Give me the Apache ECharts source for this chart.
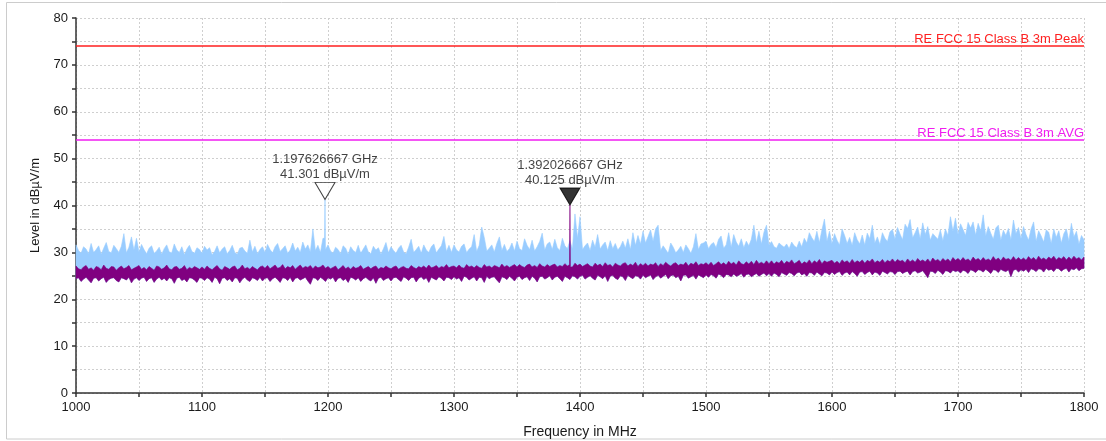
<!DOCTYPE html>
<html>
<head>
<meta charset="utf-8">
<script src="https://cdn.jsdelivr.net/npm/echarts@6/dist/echarts.min.js"></script>
<style>
  html, body { margin: 0; padding: 0; background: #fff; }
  #chart { width: 1106px; height: 441px; }
</style>
</head>
<body>
<div id="chart"></div>
<script>
// Frequency grid of the traces: one reading every 2 MHz from 1000 MHz to 1800 MHz
const FREQ_START = 1000;
const FREQ_STEP = 2;

// Peak detector trace, upper envelope per 2 MHz step (dBµV/m)
const peakHigh = [
  31.6, 30.4, 29.8, 31.2, 30.7, 29.7, 31.9, 30.0, 30.6, 31.4, 29.6, 30.9, 32.1, 30.2, 29.9, 31.5, 30.8, 30.0, 31.3, 34.0, 29.9, 31.1, 33.3, 30.5, 33.0,
  30.1, 31.7, 30.6, 29.7, 30.9, 31.4, 29.8, 30.3, 31.1, 29.6, 30.8, 31.6, 30.1, 29.9, 31.8, 30.5, 30.0, 31.2, 29.5, 30.7, 31.5, 30.2, 29.8, 31.0, 30.6,
  29.8, 31.3, 30.5, 31.0, 29.5, 30.2, 31.4, 29.9, 30.7, 31.2, 29.7, 30.4, 31.5, 30.0, 29.6, 30.9, 31.1, 30.3, 29.8, 32.6, 30.1, 31.3, 29.7, 30.6, 31.2,
  30.0, 31.7, 30.6, 29.9, 31.2, 31.9, 30.2, 30.8, 31.4, 29.8, 30.5, 32.0, 30.3, 31.1, 30.0, 32.2, 30.7, 31.6, 30.1, 35.0, 30.4, 31.5, 30.0, 33.0, 30.6,
  31.6, 30.3, 29.8, 31.1, 30.6, 29.7, 31.4, 30.9, 29.6, 31.2, 30.4, 30.0, 31.5, 29.8, 30.7, 31.6, 30.1, 29.7, 31.3, 30.5, 31.0, 29.6, 30.8, 32.1, 29.9,
  31.2, 30.4, 29.8, 30.9, 31.5, 30.1, 29.7, 31.1, 32.8, 30.0, 30.6, 31.3, 29.8, 31.6, 30.5, 30.0, 31.2, 31.8, 29.9, 30.7, 31.4, 33.4, 30.2, 31.5, 30.0,
  31.6, 30.5, 30.1, 31.3, 31.8, 30.0, 30.7, 31.2, 33.8, 30.2, 31.5, 35.4, 33.2, 30.3, 30.9, 31.6, 30.1, 31.9, 33.3, 30.4, 31.7, 30.2, 30.8, 32.0, 30.3,
  32.4, 30.8, 30.4, 32.9, 31.5, 30.6, 32.6, 30.3, 31.2, 32.3, 34.1, 30.5, 31.8, 32.2, 30.6, 32.8, 31.0, 30.4, 33.0, 31.4, 30.8, 32.5, 30.7, 38.2, 33.0,
  37.6, 30.6, 31.4, 32.0, 30.4, 32.6, 31.1, 33.8, 30.7, 31.6, 32.2, 30.4, 32.5, 30.8, 31.9, 30.5, 31.2, 32.4, 30.9, 32.9, 30.6, 34.2, 31.5, 33.6, 31.8,
  34.5, 32.0, 33.4, 34.8, 32.4, 35.0, 35.8, 30.4, 31.4, 30.6, 29.8, 32.0, 31.1, 29.9, 30.5, 31.3, 30.0, 31.6, 30.8, 29.8, 31.2, 34.0, 30.6, 31.8, 32.0,
  32.4, 30.8, 31.7, 32.1, 31.0, 32.8, 33.5, 30.9, 31.6, 34.2, 31.1, 33.8, 32.2, 31.3, 32.9, 31.0, 32.4, 31.4, 32.8, 35.8, 32.0, 34.5, 31.8, 34.3, 35.8,
  31.6, 32.3, 31.2, 30.9, 32.0, 31.5, 31.1, 31.8, 30.8, 32.2, 31.4, 31.0, 32.4, 31.2, 33.0, 32.0, 34.2, 33.1, 32.3, 34.5, 32.1, 34.8, 37.1, 32.4, 34.5,
  31.8, 34.0, 32.6, 31.6, 35.0, 33.6, 31.9, 33.2, 31.5, 34.2, 32.7, 31.8, 33.7, 31.6, 34.1, 32.9, 35.8, 32.0, 33.3, 31.7, 34.2, 33.0, 32.3, 34.4, 34.9,
  32.8, 35.3, 33.9, 32.7, 36.0, 35.1, 37.0, 33.1, 34.2, 35.4, 32.9, 36.3, 33.8, 35.5, 32.6, 34.0, 33.4, 32.8, 34.8, 32.5, 35.0, 33.6, 37.6, 34.5, 37.3,
  33.8, 36.1, 34.9, 33.6, 36.4, 35.2, 36.5, 33.7, 36.2, 34.6, 38.0, 33.5, 35.5, 34.1, 32.8, 35.2, 35.8, 32.6, 34.7, 33.6, 35.1, 32.7, 36.9, 34.0, 35.3,
  32.9, 35.5, 33.8, 32.6, 35.0, 36.5, 32.4, 34.6, 33.5, 32.2, 34.8, 34.3, 31.9, 35.0, 33.2, 34.6, 32.0, 34.0, 35.0, 32.4, 36.2, 33.3, 34.5, 31.8, 33.6,
  32.7
];

// Average detector trace, upper envelope per 2 MHz step (dBµV/m)
const avgHigh = [
  27.1, 26.5, 26.3, 26.9, 27.2, 26.4, 26.7, 26.2, 27.0, 26.8, 26.3, 27.3, 26.6, 26.4, 27.0, 26.9, 26.2, 26.7, 27.1, 26.5, 26.8, 27.2, 26.3, 26.6, 26.9,
  27.2, 26.4, 26.8, 26.3, 27.0, 26.6, 26.2, 27.1, 26.9, 26.4, 26.7, 27.3, 26.5, 26.3, 26.9, 27.0, 26.4, 26.6, 27.2, 26.3, 26.8, 26.5, 27.0, 26.7, 26.4,
  26.9, 26.4, 27.1, 26.6, 26.3, 26.8, 27.2, 26.5, 26.2, 27.0, 26.7, 26.4, 26.9, 27.1, 26.3, 26.6, 27.3, 26.5, 26.8, 26.4, 27.0, 26.6, 26.3, 26.9, 27.1,
  26.6, 27.2, 26.5, 26.9, 27.3, 26.6, 26.8, 27.4, 26.5, 27.0, 26.7, 27.2, 26.4, 26.9, 27.3, 26.6, 27.0, 26.8, 27.2, 26.5, 27.1, 26.7, 26.9, 27.3, 26.6,
  27.0, 26.5, 26.8, 27.1, 26.3, 26.7, 27.2, 26.5, 26.9, 26.4, 27.0, 26.6, 26.8, 27.2, 26.4, 26.7, 27.0, 26.5, 26.9, 27.1, 26.4, 26.8, 26.6, 27.1, 26.7,
  26.5, 26.9, 27.1, 26.4, 26.8, 27.0, 26.6, 26.5, 27.2, 26.8, 26.5, 27.0, 26.7, 27.1, 26.6, 27.3, 26.7, 26.9, 27.2, 26.6, 27.0, 26.8, 27.4, 26.7, 27.0,
  27.1, 26.7, 27.3, 26.8, 26.6, 27.4, 26.9, 27.1, 26.7, 27.2, 26.8, 26.6, 27.4, 26.9, 27.1, 26.7, 27.2, 27.0, 26.7, 27.5, 26.9, 27.2, 26.8, 27.1, 27.4,
  26.9, 27.4, 27.0, 26.8, 27.3, 27.5, 26.9, 27.2, 26.8, 27.6, 27.1, 26.9, 27.4, 27.0, 27.3, 27.5, 26.9, 27.2, 27.0, 27.6, 27.1, 27.4, 26.9, 27.7, 27.2,
  27.5, 27.0, 27.3, 27.6, 27.1, 26.9, 27.7, 27.2, 27.5, 27.0, 27.8, 27.2, 27.4, 26.9, 27.7, 27.3, 27.1, 27.6, 27.8, 27.1, 27.5, 27.2, 27.9, 27.0, 27.6,
  27.2, 27.7, 27.1, 27.5, 27.3, 27.8, 27.0, 27.6, 27.2, 27.9, 27.4, 27.1, 27.6, 27.8, 27.2, 27.5, 27.3, 27.9, 27.1, 27.7, 27.4, 28.0, 27.2, 27.6, 27.4,
  27.8, 27.3, 27.9, 27.2, 27.6, 28.0, 27.4, 27.8, 27.3, 28.1, 27.5, 27.9, 27.3, 28.2, 27.6, 27.4, 28.0, 27.5, 28.1, 27.4, 28.3, 27.6, 27.9, 27.5, 28.2,
  27.6, 28.2, 27.5, 28.0, 27.7, 28.3, 27.5, 28.1, 27.8, 28.4, 27.6, 27.9, 28.3, 27.5, 28.0, 27.7, 28.4, 27.6, 28.2, 27.8, 28.5, 27.6, 28.2, 27.9, 28.1,
  28.3, 27.7, 28.1, 27.6, 28.4, 27.9, 28.2, 27.7, 28.5, 27.8, 28.2, 27.9, 28.4, 27.7, 28.3, 28.0, 28.6, 27.8, 28.2, 27.9, 28.5, 27.8, 28.3, 28.0, 28.6,
  27.9, 28.5, 28.1, 28.3, 27.8, 28.6, 28.0, 28.4, 27.9, 28.7, 28.1, 28.4, 28.0, 28.6, 27.9, 28.8, 28.2, 28.5, 28.0, 28.7, 28.2, 28.6, 28.0, 28.9, 28.3,
  28.7, 28.2, 28.9, 28.3, 28.6, 28.1, 29.0, 28.4, 28.7, 28.2, 28.9, 28.3, 28.6, 28.2, 29.1, 28.4, 28.8, 28.2, 29.0, 28.5, 28.7, 28.3, 29.1, 28.4, 28.9,
  28.4, 28.8, 28.3, 29.1, 28.5, 28.9, 28.3, 29.2, 28.5, 28.8, 28.4, 29.0, 28.6, 29.2, 28.4, 28.9, 28.6, 29.1, 28.4, 29.0, 28.5, 29.2, 28.6, 28.9, 28.4,
  29.0
];

// Average detector trace, lower envelope per 2 MHz step (dBµV/m)
const avgLow = [
  24.4, 24.6, 23.8, 24.3, 24.7, 24.1, 23.5, 24.5, 24.6, 23.9, 24.4, 24.7, 23.6, 24.2, 24.5, 24.6, 24.0, 23.7, 24.6, 24.4, 24.1, 24.7, 23.5, 24.3, 24.6,
  24.0, 24.5, 24.7, 23.8, 24.4, 24.6, 23.6, 24.3, 24.7, 24.1, 24.5, 23.9, 24.6, 24.4, 23.4, 24.5, 24.7, 24.0, 24.3, 23.7, 24.6, 24.5, 24.1, 23.6, 24.6,
  24.5, 24.0, 24.6, 24.3, 23.6, 24.7, 24.4, 23.3, 24.5, 24.6, 24.0, 24.4, 23.7, 24.6, 24.5, 23.5, 24.3, 24.7, 24.1, 23.8, 24.6, 24.4, 24.0, 24.7, 23.9,
  24.5, 24.6, 23.8, 24.4, 24.7, 24.2, 23.6, 24.6, 24.5, 24.0, 24.7, 23.7, 24.5, 24.6, 24.1, 24.4, 24.7, 23.9, 23.2, 24.6, 24.5, 24.0, 24.7, 24.3, 23.8,
  24.6, 24.3, 24.7, 23.7, 24.5, 24.6, 24.0, 24.4, 23.6, 24.7, 24.5, 24.1, 24.6, 23.8, 24.4, 24.7, 24.2, 23.9, 24.6, 23.4, 24.5, 24.7, 24.0, 24.4, 24.6,
  23.9, 24.6, 24.7, 24.2, 23.8, 24.8, 24.5, 24.0, 24.6, 24.7, 23.7, 24.5, 24.8, 24.2, 24.6, 23.6, 24.7, 24.4, 24.1, 24.8, 24.5, 23.9, 24.7, 24.6, 24.2,
  24.8, 24.3, 24.6, 23.8, 24.9, 24.7, 24.1, 24.5, 24.8, 23.9, 24.7, 24.6, 23.6, 24.9, 24.4, 24.7, 24.8, 24.1, 23.5, 24.8, 24.6, 24.2, 24.9, 24.5, 23.9,
  24.7, 24.9, 24.2, 24.6, 24.8, 24.0, 24.9, 24.5, 23.7, 24.8, 24.9, 24.3, 24.6, 25.0, 24.1, 24.7, 24.9, 24.4, 23.8, 24.9, 24.6, 24.2, 25.0, 24.8, 24.3,
  24.9, 25.1, 24.3, 24.7, 25.0, 24.5, 24.1, 25.1, 24.8, 24.4, 25.0, 23.8, 24.9, 25.1, 24.5, 24.2, 25.0, 24.8, 24.0, 25.1, 24.7, 24.4, 25.0, 24.9, 24.3,
  25.1, 24.6, 24.9, 25.2, 24.2, 24.8, 25.1, 24.5, 24.9, 25.3, 24.4, 25.0, 25.2, 24.6, 24.9, 23.9, 25.1, 25.2, 24.5, 24.8, 25.1, 24.3, 25.2, 24.9, 24.6,
  25.2, 24.7, 25.3, 25.0, 24.5, 25.4, 25.1, 24.6, 25.3, 25.2, 24.8, 25.4, 24.9, 25.1, 25.5, 24.7, 25.3, 25.4, 24.8, 25.2, 25.5, 24.9, 25.3, 25.6, 25.0,
  25.5, 24.9, 25.6, 25.3, 24.8, 25.7, 25.4, 25.1, 25.7, 25.5, 25.0, 25.6, 25.8, 25.2, 25.5, 24.9, 25.7, 25.6, 25.1, 25.8, 25.4, 25.0, 25.7, 25.6, 25.2,
  25.8, 25.3, 25.7, 25.9, 25.1, 25.6, 25.8, 25.2, 25.9, 25.5, 24.9, 25.8, 25.9, 25.3, 25.7, 26.0, 25.2, 25.8, 25.6, 25.1, 26.0, 25.7, 25.4, 25.9, 25.8,
  25.3, 25.9, 26.0, 25.5, 25.8, 26.0, 25.2, 25.9, 26.1, 25.6, 25.8, 26.1, 25.4, 24.6, 26.0, 25.9, 25.5, 26.2, 25.8, 25.3, 26.1, 26.0, 25.6, 26.2, 25.9,
  26.1, 25.6, 26.2, 26.0, 25.5, 26.3, 26.1, 25.7, 26.3, 26.2, 25.8, 26.4, 26.0, 25.5, 26.3, 26.2, 25.7, 26.4, 26.1, 25.9, 26.3, 24.8, 26.2, 26.4, 25.8,
  26.3, 26.0, 26.4, 25.7, 26.5, 26.3, 25.9, 26.5, 26.4, 25.8, 26.6, 26.2, 26.4, 25.9, 26.6, 26.5, 26.0, 26.4, 26.6, 25.8, 26.5, 26.3, 26.7, 26.1, 26.5,
  26.6
];

// Marker readouts: frequency in MHz, level in dBµV/m, and the trace each one sits on
const markers = [
  { freq: 1197.626667, level: 41.301, trace: 'peak', filled: false },
  { freq: 1392.026667, level: 40.125, trace: 'avg', filled: true }
];

// Limit lines
const limitNames = ['RE FCC 15 Class B 3m Peak', 'RE FCC 15 Class B 3m AVG'];
const limitLevels = [74, 54];
const limitColors = ['#ff1f1f', '#f01cf0'];

const FONT = '"Liberation Sans", Arial, sans-serif';
const PEAK_COLOR = '#99ccff';
const AVG_COLOR = '#800080';
const SPIKE_HALF_WIDTH = 0.35; // MHz either side of a marker reading

function toPoints(arr) {
  return arr.map((v, i) => [FREQ_START + i * FREQ_STEP, v]);
}

// insert each marker reading into its trace as a narrow spike
function withMarkers(points, trace) {
  const out = points.slice();
  markers.filter(m => m.trace === trace).forEach(m => {
    let idx = out.findIndex(p => p[0] > m.freq);
    if (idx < 0) idx = out.length;
    const before = out[Math.max(idx - 1, 0)][1];
    const after = out[Math.min(idx, out.length - 1)][1];
    out.splice(idx, 0,
      [m.freq - SPIKE_HALF_WIDTH, before],
      [m.freq, m.level],
      [m.freq + SPIKE_HALF_WIDTH, after]);
  });
  return out;
}

const peakTop = withMarkers(toPoints(peakHigh), 'peak');
const avgTop = withMarkers(toPoints(avgHigh), 'avg');
const avgBottom = toPoints(avgLow);

// filled band between an upper and a lower edge, projected through the axes
function bandSeries(name, top, bottom, color, z) {
  return {
    name: name,
    type: 'custom',
    coordinateSystem: 'cartesian2d',
    silent: true,
    animation: false,
    z: z,
    data: [[FREQ_START, 0]],
    encode: { x: 0, y: 1 },
    renderItem: function (params, api) {
      const pts = top.map(p => api.coord(p));
      for (let i = bottom.length - 1; i >= 0; i--) pts.push(api.coord(bottom[i]));
      return {
        type: 'polygon',
        shape: { points: pts },
        style: { fill: color, stroke: color, lineWidth: 0.6 }
      };
    }
  };
}

const axisLineStyle = { color: '#333', width: 1.5 };
const gridLineStyle = { color: '#cfcfcf', width: 1, type: [2, 2] };

const chart = echarts.init(document.getElementById('chart'), null, { renderer: 'canvas' });

chart.setOption({
  animation: false,
  backgroundColor: '#fff',
  textStyle: { fontFamily: FONT },
  grid: {
    left: 76, right: 22, top: 18, bottom: 48,
    containLabel: false,
    outerBoundsMode: 'none'
  },
  graphic: [{
    type: 'rect',
    silent: true,
    z: -10,
    shape: { x: 6.5, y: 2.5, width: 1110, height: 436.5 },
    style: { fill: 'none', stroke: '#cccccc', lineWidth: 1 }
  }],
  xAxis: {
    type: 'value',
    min: 1000,
    max: 1800,
    interval: 50,
    name: 'Frequency in MHz',
    nameLocation: 'middle',
    nameGap: 32,
    nameTextStyle: { fontSize: 14, color: '#1a1a1a', fontFamily: FONT },
    axisLine: { show: true, onZero: false, lineStyle: axisLineStyle },
    axisTick: { show: true, length: 4, lineStyle: axisLineStyle },
    axisLabel: {
      margin: 8, fontSize: 13, color: '#1a1a1a', fontFamily: FONT,
      formatter: v => (v % 100 === 0 ? String(v) : '')
    },
    splitLine: { show: true, lineStyle: gridLineStyle }
  },
  yAxis: {
    type: 'value',
    min: 0,
    max: 80,
    interval: 5,
    name: 'Level in dBµV/m',
    nameLocation: 'middle',
    nameGap: 34,
    nameTextStyle: { fontSize: 13, color: '#1a1a1a', fontFamily: FONT },
    axisLine: { show: true, onZero: false, lineStyle: axisLineStyle },
    axisTick: { show: true, length: 4, lineStyle: axisLineStyle },
    axisLabel: {
      margin: 8, fontSize: 13, color: '#1a1a1a', fontFamily: FONT,
      formatter: v => (v % 10 === 0 ? String(v) : '')
    },
    splitLine: { show: true, lineStyle: gridLineStyle }
  },
  series: [
    bandSeries('Peak', peakTop, avgBottom, PEAK_COLOR, 2),
    bandSeries('Average', avgTop, avgBottom, AVG_COLOR, 3),
    {
      name: 'Limits',
      type: 'line',
      data: [],
      z: 4,
      markLine: {
        silent: true,
        animation: false,
        symbol: 'none',
        data: limitLevels.map((lv, i) => ({
          name: limitNames[i],
          yAxis: lv,
          lineStyle: { color: limitColors[i], width: 1.5, type: 'solid' },
          label: {
            show: true,
            position: 'insideEndTop',
            distance: 0,
            formatter: '{b}',
            color: limitColors[i],
            fontSize: 13,
            fontFamily: FONT
          }
        }))
      }
    },
    {
      name: 'Markers',
      type: 'scatter',
      z: 6,
      silent: true,
      symbol: 'path://M0,0L20,0L10,17Z',
      symbolSize: [20, 17],
      symbolOffset: [0, -8.5],
      data: markers.map(m => ({
        value: [m.freq, m.level],
        itemStyle: m.filled
          ? { color: '#000', borderColor: '#000', borderWidth: 1 }
          : { color: '#fff', borderColor: '#111', borderWidth: 1 }
      })),
      label: {
        show: true,
        position: 'top',
        distance: 0,
        color: '#111',
        fontSize: 13,
        lineHeight: 15,
        fontFamily: FONT,
        formatter: p => {
          const m = markers[p.dataIndex];
          return (m.freq / 1000).toFixed(9) + ' GHz\n' + m.level.toFixed(3) + ' dBµV/m';
        }
      },
      emphasis: { disabled: true }
    }
  ]
});
</script>
</body>
</html>
